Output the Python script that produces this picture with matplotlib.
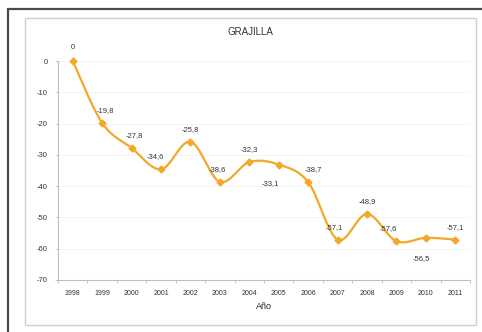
import numpy as np
import matplotlib
matplotlib.use("Agg")
import matplotlib.pyplot as plt
from matplotlib.patches import Rectangle

plt.rcParams['font.family'] = ['Liberation Sans', 'DejaVu Sans']

years = ['1998', '1999', '2000', '2001', '2002', '2003', '2004',
         '2005', '2006', '2007', '2008', '2009', '2010', '2011']
values = [0, -19.8, -27.8, -34.6, -25.8, -38.6, -32.3,
          -33.1, -38.7, -57.1, -48.9, -57.6, -56.5, -57.1]
yticks = [0, -10, -20, -30, -40, -50, -60, -70]

# label offsets in points (dx, dy)
label_offsets = [(0, 10), (2, 9), (2, 9), (-4, 9), (0, 9), (-2, 9), (0, 9),
                 (-6, -14), (4, 9), (-2, 9), (0, 9), (-6, 9), (-3, -15), (0, 9)]

LINE = '#F3A829'


def smooth(x, y, n=30):
    # cubic bezier through points, like a spreadsheet "smoothed line"
    x = np.asarray(x, float)
    y = np.asarray(y, float)
    px = np.concatenate([[x[0]], x, [x[-1]]])
    py = np.concatenate([[y[0]], y, [y[-1]]])
    xs, ys = [], []
    for i in range(len(x) - 1):
        p0 = np.array([px[i + 1], py[i + 1]])
        p3 = np.array([px[i + 2], py[i + 2]])
        c1 = p0 + (np.array([px[i + 2], py[i + 2]]) - np.array([px[i], py[i]])) / 6
        c2 = p3 - (np.array([px[i + 3], py[i + 3]]) - np.array([px[i + 1], py[i + 1]])) / 6
        t = np.linspace(0, 1, n)[:, None]
        pts = ((1 - t) ** 3) * p0 + 3 * ((1 - t) ** 2) * t * c1 + 3 * (1 - t) * t ** 2 * c2 + t ** 3 * p3
        xs.extend(pts[:, 0])
        ys.extend(pts[:, 1])
    return np.array(xs), np.array(ys)


fig = plt.figure(figsize=(4.82, 3.32), dpi=100)
W, H = 482, 332

# outer frame and inner chart border
fig.patches.append(Rectangle((8 / W, -0.05), 1.2, 1 - 9 / H + 0.05, transform=fig.transFigure,
                             fill=False, edgecolor='#4a4a4a', linewidth=1.6))
fig.patches.append(Rectangle((25 / W, 1 - 325 / H), (476 - 25) / W, (325 - 18) / H,
                             transform=fig.transFigure, fill=False,
                             edgecolor='#cfcfcf', linewidth=1.0))

ax = fig.add_axes([58 / W, 1 - 280 / H, (470 - 58) / W, (280 - 61) / H])

x = np.arange(len(years))
sx, sy = smooth(x, values)
ax.plot(sx, sy, color=LINE, linewidth=1.6, solid_capstyle='round', clip_on=False)
ax.plot(x, values, linestyle='none', marker='D', markersize=3.5, color=LINE,
        markeredgecolor=LINE, clip_on=False)

for xi, v, (dx, dy) in zip(x, values, label_offsets):
    txt = f"{v:g}".replace('.', ',')
    ax.annotate(txt, (xi, v), xytext=(dx, dy), textcoords='offset points',
                ha='center', va='center', fontsize=5.5, color='#333333')

ax.set_xlim(-0.5, len(years) - 0.5)
ax.set_ylim(-70, 0)
ax.set_yticks(yticks)
ax.set_yticklabels([str(t) for t in yticks])
ax.set_xticks(x)
ax.set_xticklabels(years)
ax.set_xticks(np.arange(-0.5, len(years), 1), minor=True)

ax.grid(axis='y', color='#f2f2f2', linewidth=0.6)
ax.set_axisbelow(True)
for s in ['top', 'right']:
    ax.spines[s].set_visible(False)
for s in ['left', 'bottom']:
    ax.spines[s].set_color('#bdbdbd')
    ax.spines[s].set_linewidth(0.8)

ax.tick_params(axis='y', labelsize=5.5, colors='#333333', length=2.5, width=0.6,
               pad=5, color='#bdbdbd')
ax.tick_params(axis='x', which='major', labelsize=5, colors='#333333', length=0, pad=7)
ax.tick_params(axis='x', which='minor', length=2.5, width=0.6, color='#bdbdbd')

ax.set_xlabel('Año', fontsize=6.5, color='#222222', labelpad=4)
fig.text(250 / W, 1 - 32 / H, 'GRAJILLA', ha='center', va='center',
         fontsize=7, color='#333333')

fig.savefig('out.png', dpi=100)
